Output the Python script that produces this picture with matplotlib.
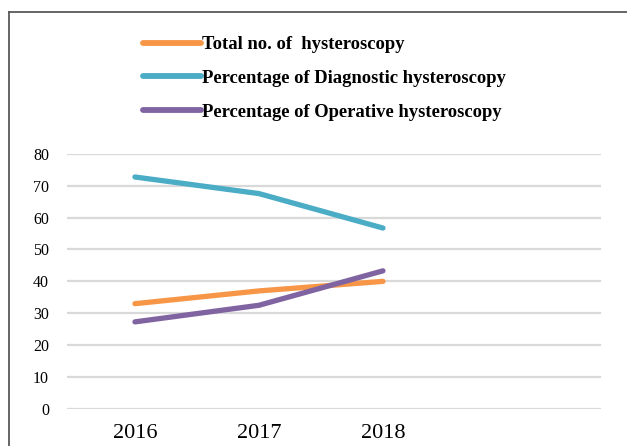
import matplotlib.pyplot as plt
from matplotlib.lines import Line2D

years = ['2016', '2017', '2018']
total_no = [33, 37, 40]
diagnostic_pct = [72.7, 67.5, 56.7]
operative_pct = [27.3, 32.5, 43.3]

plt.rcParams['font.family'] = ['Liberation Serif', 'DejaVu Serif']

fig = plt.figure(figsize=(6.27, 4.46), dpi=100)
ax = fig.add_axes([67 / 627, 37 / 446, 534 / 627, 255.3 / 446])

x = list(range(len(years)))
series = [
    (total_no, '#F79646', 'Total no. of  hysteroscopy'),
    (diagnostic_pct, '#4BACC6', 'Percentage of Diagnostic hysteroscopy'),
    (operative_pct, '#8064A2', 'Percentage of Operative hysteroscopy'),
]
for vals, col, lab in series:
    ax.plot(x, vals, color=col, lw=3.8, solid_capstyle='round', label=lab, zorder=3)

ax.set_ylim(0, 80)
ax.set_yticks(range(0, 81, 10))
ax.set_xlim(-0.548, 3.758)
ax.set_xticks(x)
ax.set_xticklabels(years, fontsize=16)
ax.tick_params(axis='y', labelsize=11.5, length=0, pad=13)
ax.tick_params(axis='x', length=0, pad=11)
ax.grid(axis='y', color='#D9D9D9', lw=1.6)
ax.set_axisbelow(True)
for s in ax.spines.values():
    s.set_visible(False)

# chart frame (left and top edges visible)
fig.add_artist(Line2D([9 / 627, 9 / 627], [0, 1 - 12 / 446], color='#595959', lw=1.3,
                      transform=fig.transFigure))
fig.add_artist(Line2D([9 / 627, 1], [1 - 12 / 446, 1 - 12 / 446], color='#595959', lw=1.3,
                      transform=fig.transFigure))

handles = [Line2D([], [], color=c, lw=4.2, solid_capstyle='round') for _, c, _ in series]
fig.legend(handles, [l for _, _, l in series], loc='upper left',
           bbox_to_anchor=(143 / 627, 1 - 36 / 446), frameon=False,
           prop={'weight': 'bold', 'size': 13.4}, handlelength=3.1, handletextpad=0.08,
           labelspacing=0.9, borderpad=0, borderaxespad=0)

fig.savefig('out.png', dpi=100)
